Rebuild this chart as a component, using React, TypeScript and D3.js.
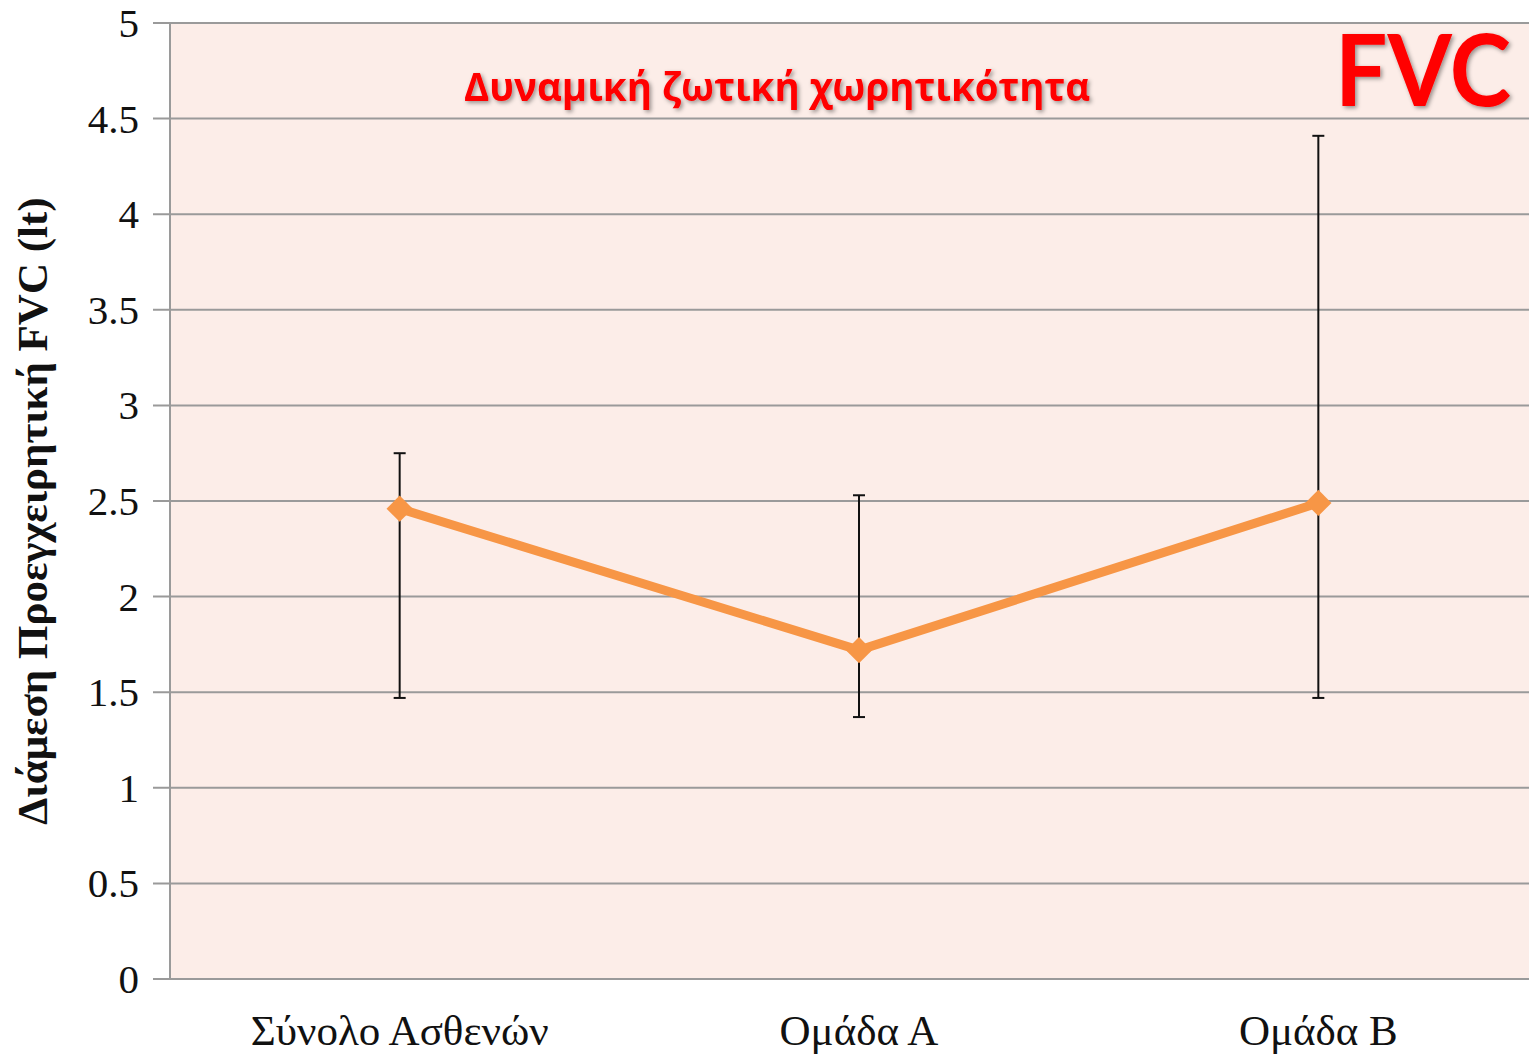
import React, { useRef, useEffect } from 'react';
import * as d3 from 'd3';

const categories = ['Σύνολο Ασθενών', 'Ομάδα Α', 'Ομάδα Β'];
const medians = [2.46, 1.72, 2.49];
const upper = [2.75, 2.53, 4.41];
const lower = [1.47, 1.37, 1.47];
const yTicks = [0, 0.5, 1, 1.5, 2, 2.5, 3, 3.5, 4, 4.5, 5];

const App = () => {
  const svgRef = useRef<SVGSVGElement>(null);
  useEffect(() => {
    const W = 1529, H = 1057;
    const svg = d3.select(svgRef.current).attr('width', W).attr('height', H);
    svg.selectAll('*').remove();

    const left = 170, right = 1548, top = 23, bottom = 979;
    const x = d3.scaleBand().domain(categories).range([left, right]);
    const y = d3.scaleLinear().domain([0, 5]).range([bottom, top]);
    const cx = (c: string) => (x(c) as number) + x.bandwidth() / 2;

    // plot background
    svg.append('rect')
      .attr('x', left).attr('y', top)
      .attr('width', W - left).attr('height', bottom - top)
      .attr('fill', '#fcede8');

    // gridlines
    svg.append('g').selectAll('line')
      .data(yTicks)
      .join('line')
      .attr('x1', left - 17).attr('x2', W)
      .attr('y1', d => y(d)).attr('y2', d => y(d))
      .attr('stroke', '#9a9a9a').attr('stroke-width', 2);

    // y axis line
    svg.append('line')
      .attr('x1', left).attr('x2', left)
      .attr('y1', top).attr('y2', bottom)
      .attr('stroke', '#9a9a9a').attr('stroke-width', 2);

    // tick labels
    svg.append('g').selectAll('text')
      .data(yTicks)
      .join('text')
      .attr('x', 139)
      .attr('y', d => y(d) + 14)
      .attr('text-anchor', 'end')
      .attr('font-family', '"Liberation Serif", serif')
      .attr('font-size', 41)
      .attr('fill', '#111')
      .text(d => String(d));

    // category labels
    svg.append('g').selectAll('text')
      .data(categories)
      .join('text')
      .attr('x', d => cx(d))
      .attr('y', 1045)
      .attr('text-anchor', 'middle')
      .attr('font-family', '"Liberation Serif", serif')
      .attr('font-size', 43)
      .attr('fill', '#111')
      .text(d => d);

    // y axis title
    svg.append('text')
      .attr('transform', 'translate(47,511) rotate(-90)')
      .attr('text-anchor', 'middle')
      .attr('font-family', '"Liberation Serif", serif')
      .attr('font-weight', 'bold')
      .attr('font-size', 43)
      .attr('fill', '#111')
      .text('Διάμεση Προεγχειρητική FVC (lt)');

    // error bars
    const eb = svg.append('g').attr('stroke', '#111').attr('stroke-width', 2);
    categories.forEach((c, i) => {
      const xc = cx(c);
      eb.append('line').attr('x1', xc).attr('x2', xc).attr('y1', y(upper[i])).attr('y2', y(lower[i]));
      eb.append('line').attr('x1', xc - 6).attr('x2', xc + 6).attr('y1', y(upper[i])).attr('y2', y(upper[i]));
      eb.append('line').attr('x1', xc - 6).attr('x2', xc + 6).attr('y1', y(lower[i])).attr('y2', y(lower[i]));
    });

    // median line
    const line = d3.line<number>()
      .x((d, i) => cx(categories[i]))
      .y(d => y(d));
    svg.append('path')
      .attr('d', line(medians))
      .attr('fill', 'none')
      .attr('stroke', '#f79646')
      .attr('stroke-width', 9)
      .attr('stroke-linejoin', 'round');

    const sym = d3.symbol().type(d3.symbolDiamond2).size(440);
    svg.append('g').selectAll('path')
      .data(medians)
      .join('path')
      .attr('transform', (d, i) => `translate(${cx(categories[i])},${y(d)})`)
      .attr('d', sym())
      .attr('fill', '#f79646');

    // shadow filter
    const defs = svg.append('defs');
    const f = defs.append('filter').attr('id', 'shadow').attr('x', '-10%').attr('y', '-10%').attr('width', '130%').attr('height', '140%');
    f.append('feDropShadow').attr('dx', 2).attr('dy', 2).attr('stdDeviation', 2)
      .attr('flood-color', '#000').attr('flood-opacity', 0.4);

    svg.append('text')
      .attr('x', 777).attr('y', 101)
      .attr('text-anchor', 'middle')
      .attr('font-family', '"Open Sans", sans-serif')
      .attr('font-weight', 'bold')
      .attr('font-size', 40)
      .attr('textLength', 626)
      .attr('lengthAdjust', 'spacingAndGlyphs')
      .attr('fill', '#ff0000')
      .attr('filter', 'url(#shadow)')
      .text('Δυναμική ζωτική χωρητικότητα');

    svg.append('text')
      .attr('x', 1423).attr('y', 106)
      .attr('text-anchor', 'middle')
      .attr('font-family', 'Lato, "Open Sans", sans-serif')
      .attr('font-weight', 'bold')
      .attr('font-size', 100)
      .attr('textLength', 176)
      .attr('lengthAdjust', 'spacingAndGlyphs')
      .attr('fill', '#ff0000')
      .attr('filter', 'url(#shadow)')
      .text('FVC');
  }, []);
  return <svg ref={svgRef} style={{ position: 'absolute', left: 0, top: 0 }}></svg>;
};

export default App;
